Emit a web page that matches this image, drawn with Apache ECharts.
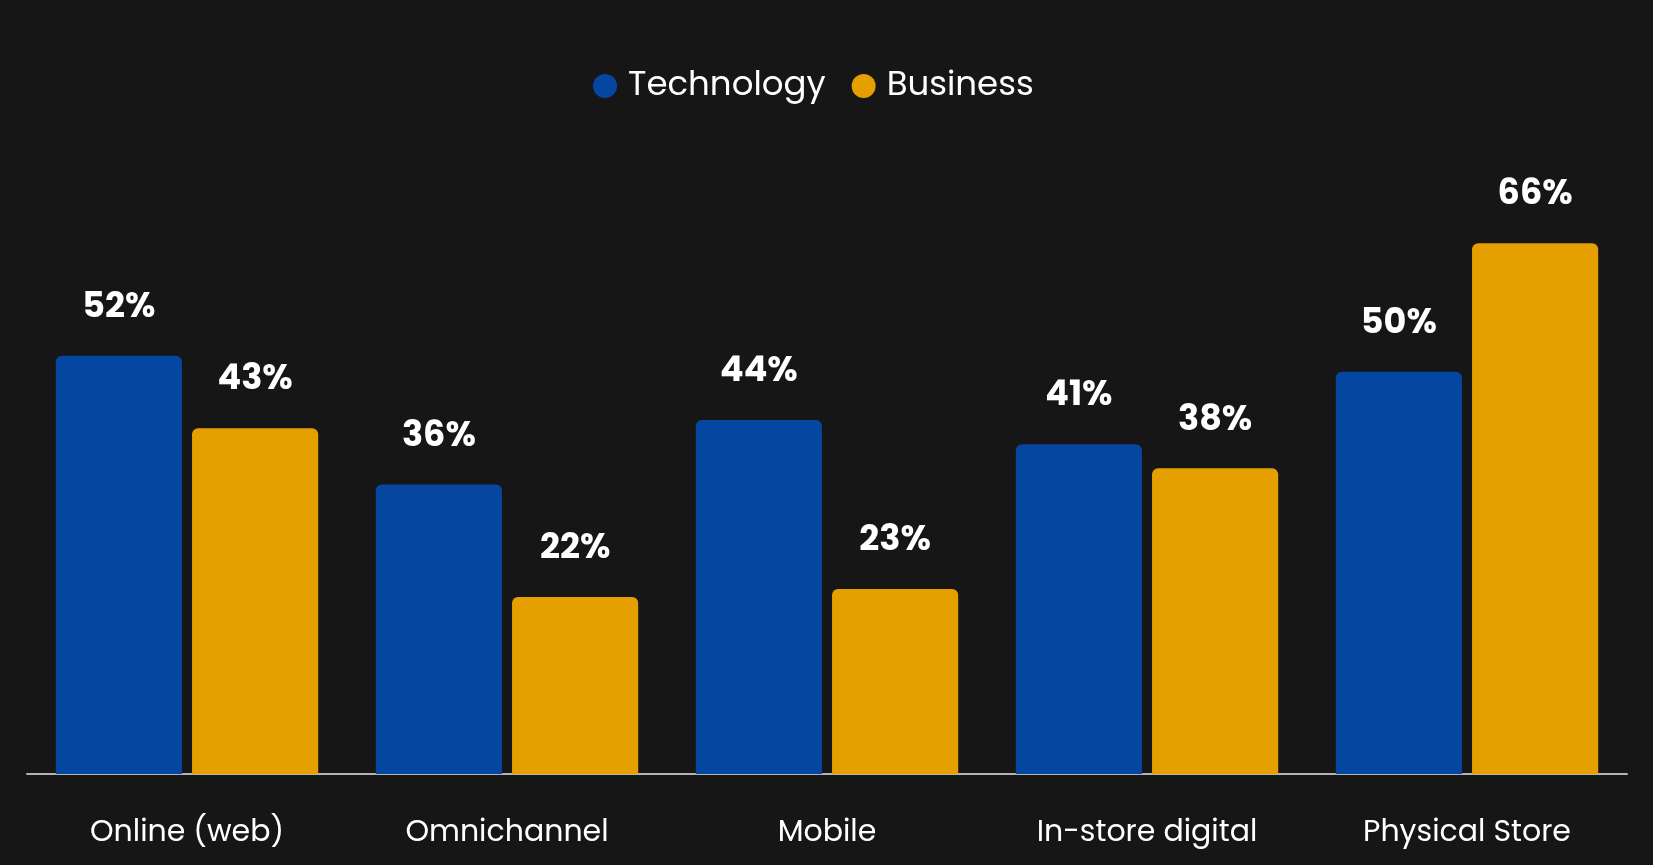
<!DOCTYPE html>
<html><head><meta charset="utf-8">
<script src="https://cdn.jsdelivr.net/npm/echarts@6/dist/echarts.min.js"></script>
<style>html,body{margin:0;padding:0;background:#161616;}#c{width:1653px;height:865px;}</style>
</head><body><div id="c"></div>
<script>
const categories = ['Online (web)', 'Omnichannel', 'Mobile', 'In-store digital', 'Physical Store'];
const technology = [52, 36, 44, 41, 50];
const business = [43, 22, 23, 38, 66];
const seriesNames = ['Technology', 'Business'];

const FONT = 'Poppins, Inter, "Open Sans", sans-serif';
const chart = echarts.init(document.getElementById('c'), null, {renderer: 'canvas'});
const labelCfg = {
  show: true, position: 'top', distance: 30,
  formatter: '{c}%', color: '#ffffff', fontFamily: FONT, fontWeight: 700, fontSize: 35
};
chart.setOption({
  backgroundColor: '#161616',
  animation: false,
  legend: {
    top: 64, left: 588, icon: 'circle', itemWidth: 24, itemHeight: 24, itemGap: 26,
    textStyle: {color: '#ffffff', fontFamily: FONT, fontSize: 34, padding: [0, 0, 0, 6]},
    data: seriesNames
  },
  grid: {left: 27, right: 26, top: 211, bottom: 91, containLabel: false},
  xAxis: {
    type: 'category', data: categories,
    axisLine: {lineStyle: {color: '#b4b4b4', width: 2}},
    axisTick: {show: false},
    axisLabel: {color: '#ffffff', fontFamily: FONT, fontSize: 30, margin: 44}
  },
  yAxis: {type: 'value', min: 0, max: 70, show: false, splitLine: {show: false}},
  series: [
    {name: seriesNames[0], type: 'bar', data: technology, barGap: '8%', barCategoryGap: '18%',
     itemStyle: {color: '#0546A0', borderRadius: [6, 6, 0, 0]}, label: labelCfg},
    {name: seriesNames[1], type: 'bar', data: business,
     itemStyle: {color: '#E5A000', borderRadius: [6, 6, 0, 0]}, label: labelCfg}
  ]
});
</script></body></html>
